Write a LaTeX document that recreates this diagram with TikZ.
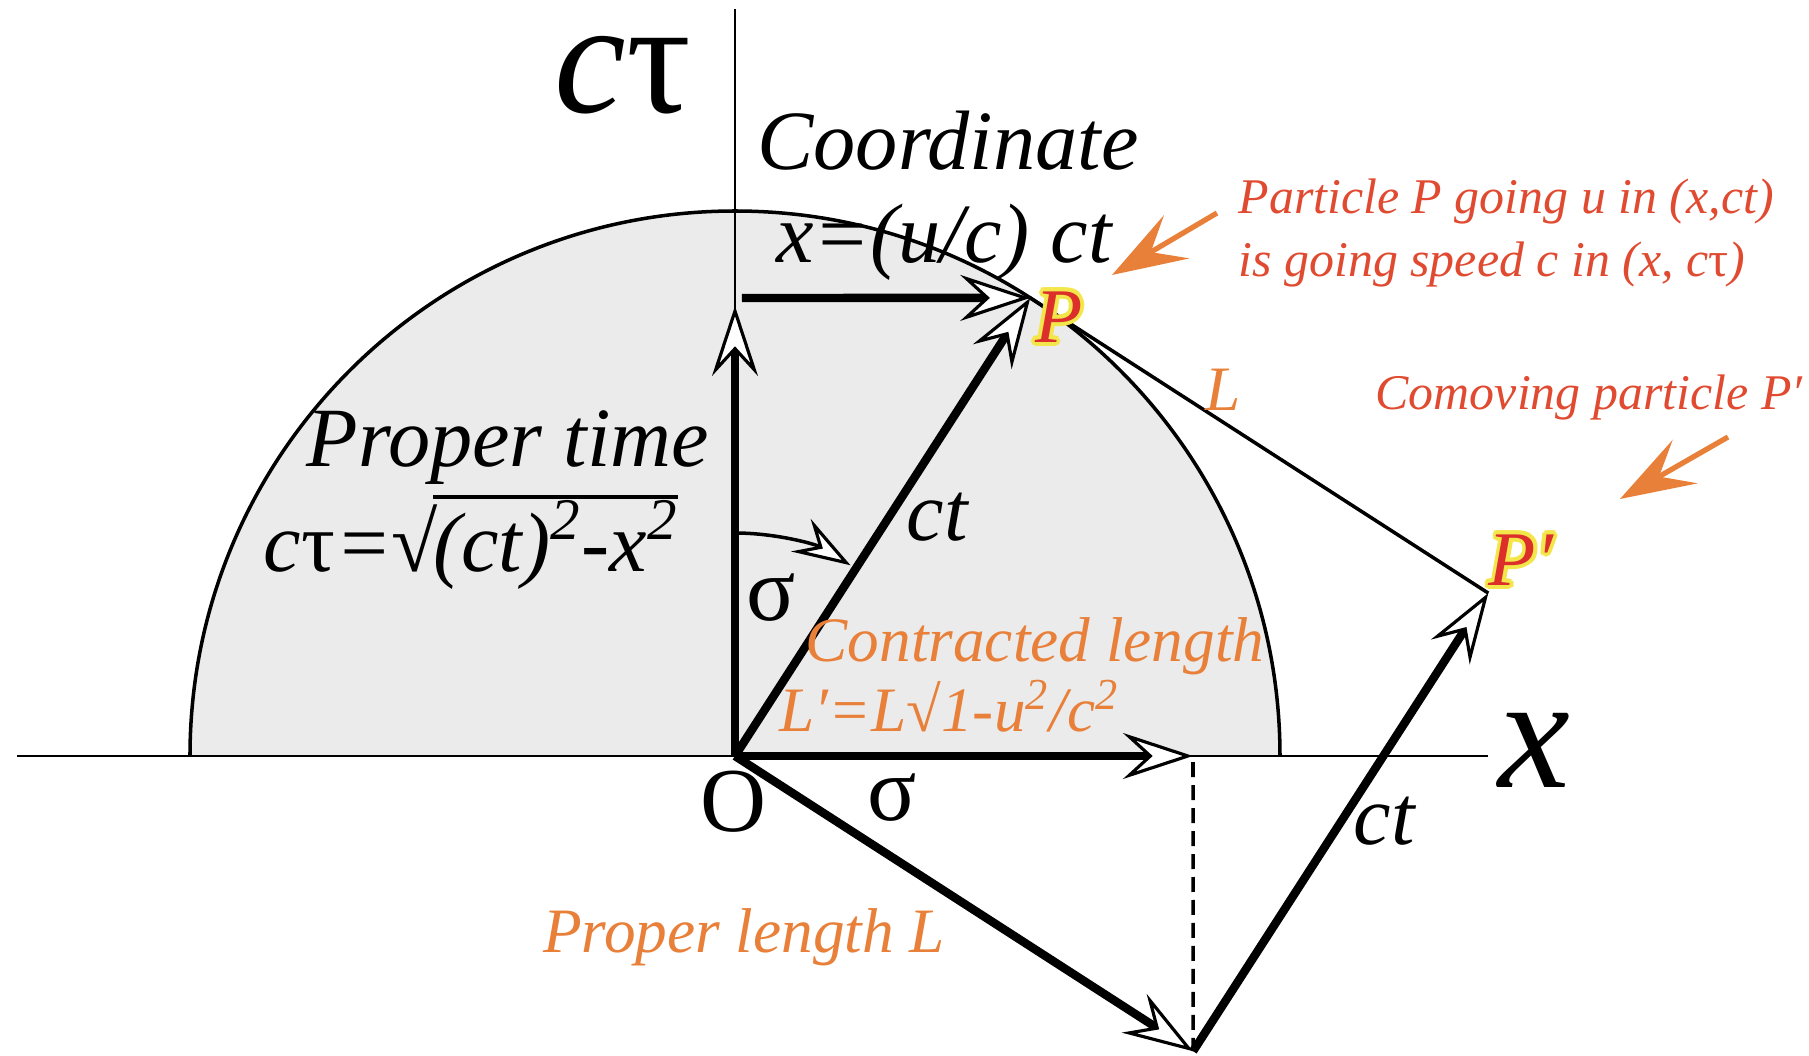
\documentclass[tikz,border=0pt]{standalone}
\usepackage{fontspec}
\setmainfont{Liberation Serif}
\usepackage{tikz}
\usetikzlibrary{arrows.meta,positioning,calc}
\definecolor{ink}{HTML}{000000}
\definecolor{disk}{HTML}{EBEBEB}
\definecolor{amber}{HTML}{E8803A}
\definecolor{brick}{HTML}{E04A30}
\definecolor{ptred}{HTML}{DC2E2A}
\definecolor{glow}{HTML}{F3E64A}
% radicand with a bar on top
\newcommand\vinc[1]{\setbox0\hbox{#1}\kern-0.06em\rlap{\rule[0.86em]{\wd0}{1.1pt}}\box0}

\tikzset{
  vec/.style={draw=ink, line width=2.4pt,
    -{Stealth[length=0.7cm, width=0.46cm, inset=0.25cm, fill=white, line width=0.9pt]}},
  arcvec/.style={draw=ink, line width=1pt,
    -{Stealth[length=0.58cm, width=0.38cm, inset=0.21cm, fill=white, line width=0.9pt]}},
  axis/.style={draw=ink, line width=0.8pt},
  thinline/.style={draw=ink, line width=1pt},
  pointer/.style={draw=amber, fill=amber, line width=1.5pt,
    -{Stealth[length=0.75cm, width=0.5cm, inset=0.3cm]}},
  lbl/.style={inner sep=0pt, font=\fontsize{24}{28}\selectfont\itshape},
  big/.style={inner sep=0pt, font=\fontsize{46}{50}\selectfont},
  sig/.style={inner sep=0pt, font=\fontsize{26}{30}\selectfont},
  note/.style={inner sep=0pt, text=amber, font=\fontsize{18}{22}\selectfont\itshape},
  remark/.style={inner sep=0pt, text=brick, align=left, font=\fontsize{14.2}{17.8}\selectfont\itshape},
  ptlabel/.style={inner sep=0pt, font=\fontsize{22}{26}\selectfont\itshape}
}

\begin{document}
\begin{tikzpicture}
  \useasboundingbox (-7.35,-3.00) rectangle (10.74,7.56);

  % points of the construction
  \coordinate (O) at (0,0);
  \coordinate (P) at (57.2:5.45);
  \coordinate (T) at (0,4.50);
  \coordinate (T0) at (0.07,4.58);
  \coordinate (Q) at (4.58,0);
  \coordinate (Qd) at (4.58,-0.06);
  \coordinate (B) at (-32.8:5.45);
  \coordinate (Pp) at ($(B)+(P)$);
  \coordinate (xl) at (-7.18,0);
  \coordinate (xr) at (7.53,0);
  \coordinate (yt) at (0,7.47);

  % half disc
  \filldraw[thinline, fill=disk] (-5.45,0) arc[start angle=180, end angle=0, radius=5.45];

  % axes
  \draw[axis] (xl) -- (xr);
  \draw[axis] (O) -- (yt);

  % vectors
  \draw[thinline] (P) -- (Pp);
  \draw[draw=ink, line width=1pt, dash pattern=on 0.15cm off 0.08cm] (Qd) -- (B);
  \draw[vec] (O) -- (T);
  \draw[vec] (T0) -- (P);
  \draw[vec] (O) -- (P);
  \draw[vec] (O) -- (Q);
  \draw[vec] (O) -- (B);
  \draw[vec] (B) -- (Pp);
  \draw[arcvec] (90:2.23) arc[start angle=90, end angle=58.8, radius=2.23];

  % pointers
  \coordinate (a1s) at (4.82,5.43);
  \coordinate (a1e) at (3.77,4.81);
  \coordinate (a2s) at (9.93,3.19);
  \coordinate (a2e) at (8.85,2.57);
  \draw[pointer] (a1s) -- (a1e);
  \draw[pointer] (a2s) -- (a2e);

  % labels
  \node[big] (ctau) at (-1.12,6.81) {\textit{c}τ};
  \node[big] (xlab) at (7.99,0.06) {\textit{x}};
  \node[inner sep=0pt, font=\fontsize{26}{30}\selectfont] (Olab) at (-0.02,-0.46) {O};
  \node[lbl] (coord) at (2.13,6.15) {Coordinate};
  \node[lbl] (xeq) at (2.09,5.14) {x=(u/c) ct};
  \node[lbl] (ptime) at (-2.27,3.08) {Proper time};
  \node[lbl, anchor=west] (ptau) at (-4.72,2.14)
    {c\textup{τ}=√\vinc{(ct)\textsuperscript{2}-x\textsuperscript{2}}};
  \node[lbl] (ct1) at (2.02,2.39) {ct};
  \node[lbl] (ct2) at (6.49,-0.65) {ct};
  \node[sig] (sig1) at (0.36,1.58) {σ};
  \node[sig] (sig2) at (1.57,-0.42) {σ};
  \node[note] (contr) at (3.00,1.10) {Contracted length};
  \node[note, anchor=west] (contrf) at (0.44,0.50)
    {L′=L√1-u\textsuperscript{2}/c\textsuperscript{2}};
  \node[note] (plen) at (0.09,-1.81) {Proper length L};
  \node[note] (Lsep) at (4.88,3.66) {L};
  \node[remark, anchor=west] (part) at (5.03,5.23)
    {Particle P going u in (x,ct)\\is going speed c in (x, c\textup{τ})};
  \node[remark, anchor=west] (comov) at (6.40,3.58) {Comoving particle P′};

  % particle labels with a yellow rim
  \coordinate (Pl) at (3.24,4.39);
  \coordinate (Ppl) at (7.86,1.96);
  \foreach \a in {0,30,...,330} {
    \node[ptlabel, text=glow] at ([shift={(\a:1.1pt)}]Pl) {P};
    \node[ptlabel, text=glow] at ([shift={(\a:1.1pt)}]Ppl) {P′};
  }
  \node[ptlabel, text=ptred] (Plab) at (Pl) {P};
  \node[ptlabel, text=ptred] (Pplab) at (Ppl) {P′};
\end{tikzpicture}
\end{document}
